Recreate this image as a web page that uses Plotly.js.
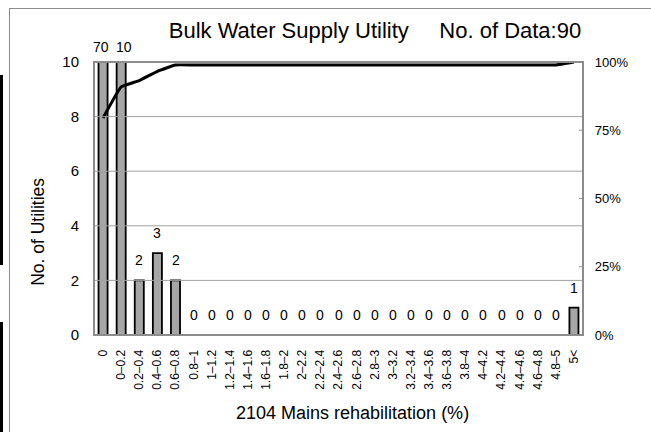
<!DOCTYPE html>
<html><head><meta charset="utf-8">
<script src="https://cdn.plot.ly/plotly-3.0.1.min.js"></script>
<style>
html,body{margin:0;padding:0;background:#fff;}
#wrap{position:relative;width:651px;height:432px;overflow:hidden;}
#chart{position:absolute;left:0;top:0;width:651px;height:432px;}
.deco{position:absolute;}
</style></head>
<body><div id="wrap">
<div id="chart"></div>
<div class="deco" style="left:9px;top:8px;width:642px;height:1px;background:#8c8c8c"></div>
<div class="deco" style="left:9px;top:8px;width:1px;height:424px;background:#8c8c8c"></div>
<div class="deco" style="left:0;top:75px;width:3px;height:190px;background:#000"></div>
<div class="deco" style="left:0;top:322px;width:3px;height:110px;background:#000"></div>
</div>
<script>
const categories = ["0","0–0.2","0.2–0.4","0.4–0.6","0.6–0.8","0.8–1","1–1.2","1.2–1.4","1.4–1.6","1.6–1.8","1.8–2","2–2.2","2.2–2.4","2.4–2.6","2.6–2.8","2.8–3","3–3.2","3.2–3.4","3.4–3.6","3.6–3.8","3.8–4","4–4.2","4.2–4.4","4.4–4.6","4.6–4.8","4.8–5","5<"];
const counts = [70,10,2,3,2,0,0,0,0,0,0,0,0,0,0,0,0,0,0,0,0,0,0,0,0,0,1];
const cumulative = [0.795,0.909,0.932,0.966,0.989,0.989,0.989,0.989,0.989,0.989,0.989,0.989,0.989,0.989,0.989,0.989,0.989,0.989,0.989,0.989,0.989,0.989,0.989,0.989,0.989,0.989,1.0];
const yMax = 10;
const leftTicks = [0,2,4,6,8,10];
const rightTicks = [0,0.25,0.5,0.75,1];
const rightTickText = ["0%","25%","50%","75%","100%"];
const titleText = "Bulk Water Supply Utility\u00a0\u00a0\u00a0\u00a0\u00a0No. of Data:90";
const xTitle = "2104 Mains rehabilitation (%)";
const yTitle = "No. of Utilities";

const font = "Liberation Sans, Arial, sans-serif";
const gray = "#8c8c8c";

const bars = {
  type:"bar", x:categories, y:counts, width:0.5,
  marker:{color:"#a6a6a6", line:{color:"#000", width:1.8}},
  hoverinfo:"none"
};
const line = {
  type:"scatter", mode:"lines", x:categories, y:cumulative, yaxis:"y2",
  line:{color:"#000", width:3, shape:"spline", smoothing:0.3}, hoverinfo:"none"
};

const annotations = counts.map((v,i)=>({
  x:categories[i], y:Math.min(v,yMax), xref:"x", yref:"y",
  text:String(v), showarrow:false, yanchor:"middle", xanchor:"center",
  yshift: v>=yMax ? 15 : 20, xshift: (v>=yMax ? (i===0?-2:3) : 0),
  font:{family:font,size:14,color:"#000"}
}));
annotations.push({xref:"paper", yref:"paper", x:-0.115, y:0.377, text:yTitle, textangle:-90,
  showarrow:false, xanchor:"center", yanchor:"middle", font:{family:font,size:17.5,color:"#000"}});
annotations.push({xref:"paper", yref:"paper", x:0.528, y:-0.286, text:xTitle,
  showarrow:false, xanchor:"center", yanchor:"middle", font:{family:font,size:18,color:"#000"}});

const shapes = leftTicks.filter(t=>t>0 && t<yMax).map(t=>({
  type:"line", xref:"paper", yref:"y", x0:0, x1:1, y0:t, y1:t, layer:"above",
  line:{color:"#a0a0a0", width:1}
}));
rightTicks.filter(t=>t>0 && t<1).forEach(t=>shapes.push({
  type:"line", xref:"paper", yref:"y2", x0:0.992, x1:1, y0:t, y1:t, layer:"above",
  line:{color:gray, width:1}
}));
shapes.push({type:"rect", xref:"paper", yref:"paper", x0:0, x1:1, y0:0, y1:1, layer:"above",
  line:{color:gray, width:2}, fillcolor:"rgba(0,0,0,0)"});

const layout = {
  width:651, height:432, showlegend:false,
  paper_bgcolor:"#fff", plot_bgcolor:"rgba(0,0,0,0)",
  margin:{l:94,r:68,t:62,b:97},
  font:{family:font,color:"#000"},
  title:{text:titleText, font:{family:font,size:22,color:"#000"}, x:0.576, xanchor:"center", y:0.93, yanchor:"middle"},
  annotations:annotations,
  shapes:shapes,
  xaxis:{type:"category", range:[-0.5,26.5], tickangle:-90, tickfont:{size:12}, showgrid:false,
    showline:false, ticks:"outside", ticklen:9, tickcolor:"rgba(0,0,0,0)"},
  yaxis:{range:[0,yMax], tickvals:leftTicks, tickfont:{size:15}, showgrid:false,
    showline:false, zeroline:false,
    ticks:"outside", ticklen:11, tickcolor:"rgba(0,0,0,0)"},
  yaxis2:{overlaying:"y", side:"right", range:[0,1], tickvals:rightTicks,
    ticktext:rightTickText.map(t=>"\u00a0\u00a0\u00a0"+t),
    tickfont:{size:13}, showgrid:false, zeroline:false, ticks:"", showline:false}
};
Plotly.newPlot("chart",[bars,line],layout,{staticPlot:true,displayModeBar:false});
</script></body></html>
